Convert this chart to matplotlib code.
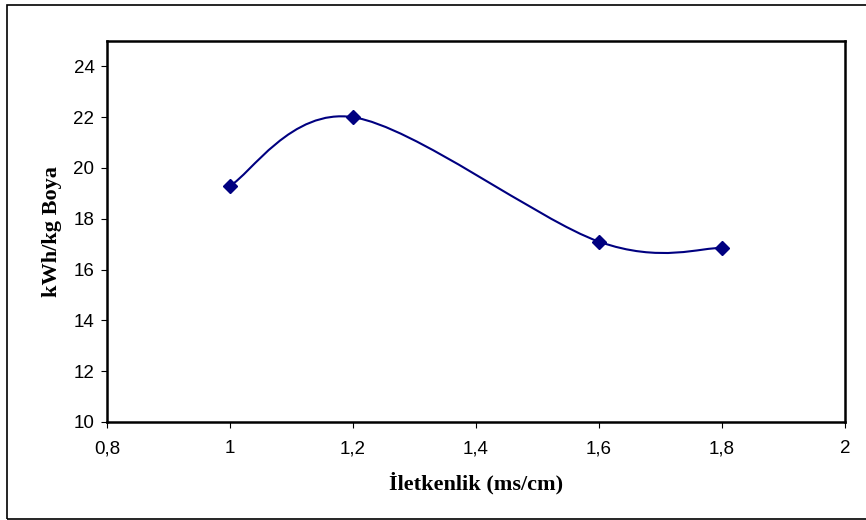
import matplotlib
matplotlib.use('Agg')
import matplotlib.pyplot as plt
from matplotlib.path import Path
from matplotlib.patches import PathPatch, Rectangle
from matplotlib.ticker import FixedLocator, FuncFormatter
import numpy as np

# data
iletkenlik = [1.0, 1.2, 1.6, 1.8]
kwh_kg = [19.3, 22.0, 17.1, 16.85]

x_ticks = [0.8, 1.0, 1.2, 1.4, 1.6, 1.8, 2.0]
y_ticks = [10, 12, 14, 16, 18, 20, 22, 24]

LINE_COL = '#000080'


def smooth_path(xs, ys):
    # Excel style smoothed line: cubic bezier, catmull-rom control points
    pts = np.column_stack([xs, ys])
    n = len(pts)
    verts = [pts[0]]
    codes = [Path.MOVETO]
    for i in range(n - 1):
        p0 = pts[max(i - 1, 0)]
        p1 = pts[i]
        p2 = pts[i + 1]
        p3 = pts[min(i + 2, n - 1)]
        c1 = p1 + (p2 - p0) / 6.0
        c2 = p2 - (p3 - p1) / 6.0
        verts += [c1, c2, p2]
        codes += [Path.CURVE4] * 3
    return Path(verts, codes)


def main():
    fig = plt.figure(figsize=(8.66, 5.2), dpi=100)
    W, H = 866.0, 520.0

    # outer chart border
    fig.patches.append(Rectangle((7 / W, 1.5 / H), 870 / W, (515 - 1.5) / H,
                                 transform=fig.transFigure, fill=False,
                                 edgecolor='black', linewidth=1.2))

    left, right, top, bottom = 107, 845, 41, 422
    ax = fig.add_axes([left / W, 1 - bottom / H, (right - left) / W, (bottom - top) / H])

    ax.add_patch(PathPatch(smooth_path(iletkenlik, kwh_kg), facecolor='none',
                           edgecolor=LINE_COL, linewidth=1.5))
    ax.plot(iletkenlik, kwh_kg, linestyle='none', marker='D', markersize=7,
            color=LINE_COL)

    ax.set_xlim(0.8, 2.0)
    ax.set_ylim(10, 25)
    ax.xaxis.set_major_locator(FixedLocator(x_ticks))
    ax.yaxis.set_major_locator(FixedLocator(y_ticks))
    ax.xaxis.set_major_formatter(FuncFormatter(lambda v, p: ('%g' % round(v, 2)).replace('.', ',')))
    ax.yaxis.set_major_formatter(FuncFormatter(lambda v, p: '%d' % v))

    for s in ax.spines.values():
        s.set_linewidth(1.8)
        s.set_color('black')
    ax.tick_params(direction='out', length=4, width=0.8, color='black',
                   labelsize=13.5, pad=5)
    ax.tick_params(axis='x', pad=9)
    for lab in ax.get_xticklabels() + ax.get_yticklabels():
        lab.set_family('Liberation Sans')

    ax.set_xlabel('İletkenlik (ms/cm)', fontfamily='Liberation Serif',
                  fontweight='bold', fontsize=16, labelpad=11)
    ax.set_ylabel('kWh/kg Boya', fontfamily='Liberation Serif',
                  fontweight='bold', fontsize=16, labelpad=8)

    fig.savefig('out.png', dpi=100)


if __name__ == '__main__':
    main()
